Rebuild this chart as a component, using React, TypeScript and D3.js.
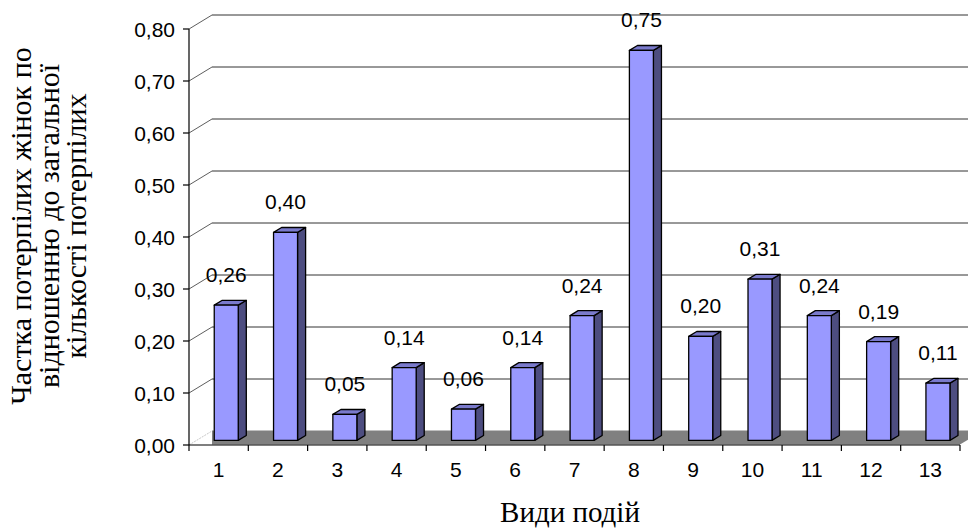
import React from "react";
import * as d3 from "d3";

const categories = ["1", "2", "3", "4", "5", "6", "7", "8", "9", "10", "11", "12", "13"];
const values = [0.26, 0.40, 0.05, 0.14, 0.06, 0.14, 0.24, 0.75, 0.20, 0.31, 0.24, 0.19, 0.11];
const yTicks = [0, 0.1, 0.2, 0.3, 0.4, 0.5, 0.6, 0.7, 0.8];
const yTitleLines = ["Частка потерпілих жінок по", "відношенню до загальної", "кількості потерпілих"];
const xTitle = "Види подій";

const W = 968;
const H = 530;
const left = 189;
const right = 960;
const y0 = 445;
const DX = 23;
const DY = -14;
const F1 = 0.33;
const F2 = 0.68;
const BAR_W = 24;

const fmt = (v: number) => v.toFixed(2).replace(".", ",");

export default function App() {
  const x = d3.scaleBand<string>().domain(categories).range([left, right]).paddingInner(0).paddingOuter(0);
  const y = d3.scaleLinear().domain([0, 0.8]).range([y0, y0 - 416]);
  const bw = x.bandwidth();
  const sans = "'Liberation Sans', Arial, sans-serif";
  const serif = "'Liberation Serif', 'Times New Roman', serif";

  const bars = values.map((v, i) => {
    const c = (x(categories[i]) as number) + bw / 2;
    const fx0 = c - BAR_W / 2 + DX * F1;
    const fx1 = fx0 + BAR_W;
    const fyb = y(0) + DY * F1;
    const fyt = y(v) + DY * F1;
    const sdx = DX * (F2 - F1);
    const sdy = DY * (F2 - F1);
    return { v, c, fx0, fx1, fyb, fyt, sdx, sdy };
  });

  const xTickPos = categories.map((c) => x(c) as number).concat([right]);

  return (
    <svg width={W} height={H} style={{ position: "absolute", left: 0, top: 0, background: "#fff" }}>
      {/* floor */}
      <polygon
        points={`${left + DX},${y0 - 0.5} ${left + DX},${y0 + DY - 0.5} ${right + DX},${y0 + DY - 0.5} ${right},${y0 - 0.5}`}
        fill="#808080"
      />
      <line x1={left} y1={y0} x2={left + DX} y2={y0 + DY} stroke="#c8c8c8" strokeWidth={1} strokeDasharray="2,1" />
      {/* back gridlines */}
      {yTicks.filter((t) => t > 0).map((t) => (
        <g key={t}>
          <line x1={left + DX} x2={W} y1={y(t) + DY} y2={y(t) + DY} stroke="#333" strokeWidth={1} />
          <line x1={left} y1={y(t)} x2={left + DX} y2={y(t) + DY} stroke="#333" strokeWidth={0.8} />
        </g>
      ))}
      {/* axes */}
      <line x1={left} x2={left} y1={y(0.8)} y2={y0} stroke="#000" strokeWidth={1.2} />
      <line x1={left} x2={right} y1={y0} y2={y0} stroke="#000" strokeWidth={1.2} />
      {yTicks.map((t) => (
        <g key={"yt" + t}>
          <line x1={left - 6} x2={left} y1={y(t)} y2={y(t)} stroke="#000" strokeWidth={1.2} />
          <text x={left - 14} y={y(t) + 7.5} textAnchor="end" fontFamily={sans} fontSize={21} fill="#000">
            {fmt(t)}
          </text>
        </g>
      ))}
      {xTickPos.map((p, i) => (
        <line key={"xt" + i} x1={p} x2={p} y1={y0} y2={y0 + 6} stroke="#000" strokeWidth={1.2} />
      ))}
      {categories.map((c) => (
        <text key={"xl" + c} x={(x(c) as number) + bw / 2} y={477} textAnchor="middle" fontFamily={sans} fontSize={21} fill="#000">
          {c}
        </text>
      ))}
      {/* bars */}
      {bars.map((b, i) => (
        <g key={"b" + i} stroke="#000" strokeWidth={1.3} strokeLinejoin="round">
          <polygon
            points={`${b.fx1},${b.fyb} ${b.fx1 + b.sdx},${b.fyb + b.sdy} ${b.fx1 + b.sdx},${b.fyt + b.sdy} ${b.fx1},${b.fyt}`}
            fill="#4D4D80"
          />
          <polygon
            points={`${b.fx0},${b.fyt} ${b.fx1},${b.fyt} ${b.fx1 + b.sdx},${b.fyt + b.sdy} ${b.fx0 + b.sdx},${b.fyt + b.sdy}`}
            fill="#7A7ACC"
          />
          <rect x={b.fx0} y={b.fyt} width={BAR_W} height={b.fyb - b.fyt} fill="#9999FF" />
        </g>
      ))}
      {bars.map((b, i) => (
        <text key={"dl" + i} x={b.fx0 + BAR_W / 2} y={b.fyt - 23} textAnchor="middle" fontFamily={sans} fontSize={21} fill="#000">
          {fmt(b.v)}
        </text>
      ))}
      {/* titles */}
      <g transform="translate(0,226)">
        {yTitleLines.map((l, i) => (
          <text key={"yl" + i} transform={`translate(${31 + i * 27.5},0) rotate(-90)`} textAnchor="middle" fontFamily={serif} fontSize={30} fill="#000">
            {l}
          </text>
        ))}
      </g>
      <text x={570} y={522} textAnchor="middle" fontFamily={serif} fontSize={29} fill="#000">
        {xTitle}
      </text>
    </svg>
  );
}
